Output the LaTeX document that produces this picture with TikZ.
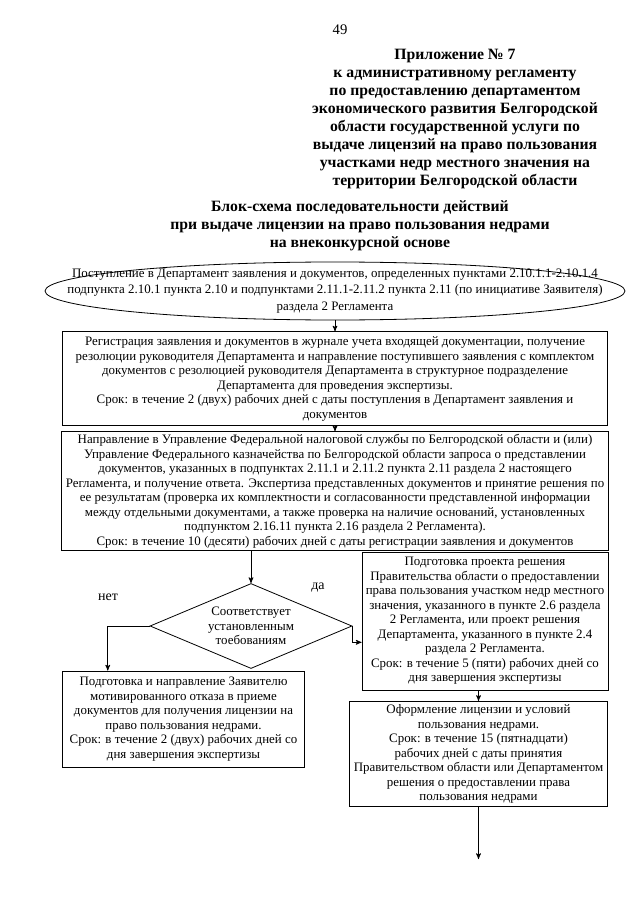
\documentclass[tikz,border=0pt]{standalone}
\usepackage{fontspec}
\setmainfont{Liberation Serif}
\usetikzlibrary{arrows,arrows.meta,positioning,shapes.geometric,calc}

\begin{document}
\begin{tikzpicture}[x=0.75pt,y=-0.75pt,->,>=stealth',semithick,
    tekst/.style={align=center,inner sep=2pt,font=\fontsize{9.7}{10.9}\selectfont},
    blok/.style={tekst,draw,rectangle},
    oval/.style={draw,ellipse,inner sep=0pt,minimum width=435pt,minimum height=43.5pt},
    romb/.style={tekst,draw,diamond,aspect=2.4,inner sep=0pt,minimum width=151.5pt,minimum height=63.75pt},
    zag/.style={align=center,font=\bfseries\fontsize{11.8}{13.4}\selectfont}]
\useasboundingbox (0,0) rectangle (640,905);
%
   \node[font=\fontsize{11}{13}\selectfont] (Str) at (340,30) {49};
   \node[zag]   (Pril) at (455,119) {Приложение № 7\\ к административному регламенту\\ по предоставлению департаментом\\
                             экономического развития Белгородской\\ области государственной услуги по\\
                             выдаче лицензий на право пользования\\ участками недр местного значения на\\ территории Белгородской области};
   \node[zag]   (Zag)  at (360,226) {Блок-схема последовательности действий\\ при выдаче лицензии на право пользования недрами\\ на внеконкурсной основе};
%
   \node[oval]  (N1) at (335,291) {};
   \node[tekst] (T1) at (N1) {Поступление в Департамент заявления и документов, определенных пунктами 2.10.1.1-2.10.1.4\\[1.2pt]
                             подпункта 2.10.1 пункта 2.10 и подпунктами 2.11.1-2.11.2 пункта 2.11 (по инициативе Заявителя)\\[1.2pt] раздела 2 Регламента};
   \node[blok,minimum width=408.75pt,minimum height=70.5pt] (N2) [below=8.25pt of N1]
        {Регистрация заявления и документов в журнале учета входящей документации, получение\\
         резолюции руководителя Департамента и  направление поступившего заявления с комплектом\\
         документов с резолюцией руководителя Департамента в структурное подразделение\\
         Департамента для проведения экспертизы.\\
         Срок: в течение 2 (двух) рабочих дней с даты поступления в Департамент заявления и\\ документов};
   \node[blok,minimum width=410pt,minimum height=88.5pt] (N3) [below=3.75pt of N2]
        {Направление  в Управление Федеральной налоговой службы по Белгородской области и (или)\\
         Управление Федерального казначейства по Белгородской области запроса о представлении\\
         документов, указанных в подпунктах 2.11.1 и 2.11.2 пункта 2.11 раздела 2 настоящего\\
         Регламента, и получение ответа. Экспертиза представленных документов  и принятие решения по\\
         ее результатам (проверка их комплектности и согласованности представленной информации\\
         между отдельными документами, а также проверка на наличие оснований, установленных\\
         подпунктом 2.16.11 пункта 2.16 раздела 2 Регламента).\\
         Срок: в течение 10  (десяти) рабочих дней с даты регистрации заявления и документов};
   \node[romb]  (N4) at (251,626) {Соответствует\\ установленным\\ тоебованиям};
   \node[blok,minimum width=182pt,minimum height=72pt] (N5) at (183.5,719)
        {Подготовка и направление Заявителю\\ мотивированного отказа в приеме\\ документов для получения лицензии на\\
         право пользования недрами.\\ Срок: в течение 2 (двух) рабочих дней со\\ дня завершения экспертизы};
   \node[blok,minimum width=184.5pt,minimum height=103.5pt] (N6) at (485,621)
        {Подготовка проекта решения\\ Правительства области о предоставлении\\ права пользования участком недр местного\\
         значения, указанного в пункте 2.6 раздела\\ 2 Регламента, или проект решения\\ Департамента, указанного в пункте 2.4\\
         раздела 2 Регламента.\\ Срок: в течение 5 (пяти) рабочих дней со\\ дня завершения экспертизы};
   \node[blok,minimum width=193pt,minimum height=79pt] (N7) at (478.5,754)
        {Оформление лицензии и условий\\ пользования недрами.\\ Срок: в течение 15 (пятнадцати)\\ рабочих дней с даты принятия\\
         Правительством области или Департаментом\\ решения о предоставлении права\\ пользования недрами};
   \coordinate[below=39pt of N7] (K);
   \node[tekst,font=\fontsize{10.5}{12}\selectfont] (Net) at (108,597) {нет};
   \node[tekst,font=\fontsize{10.5}{12}\selectfont] (Da)  at (318,588) {да};
%
   \path (N1) edge (N2);
   \path (N2) edge (N3);
   \draw (N3.south -| N4.north) -- (N4.north);
   \draw (N4.west) -| ([xshift=34.5pt]N5.north west);
   \draw (N4.east) |- ([yshift=-16pt]N6.west);
   \draw (N6.south -| N7.north) -- (N7.north);
   \draw (N7) -- (K);
\end{tikzpicture}
\end{document}
